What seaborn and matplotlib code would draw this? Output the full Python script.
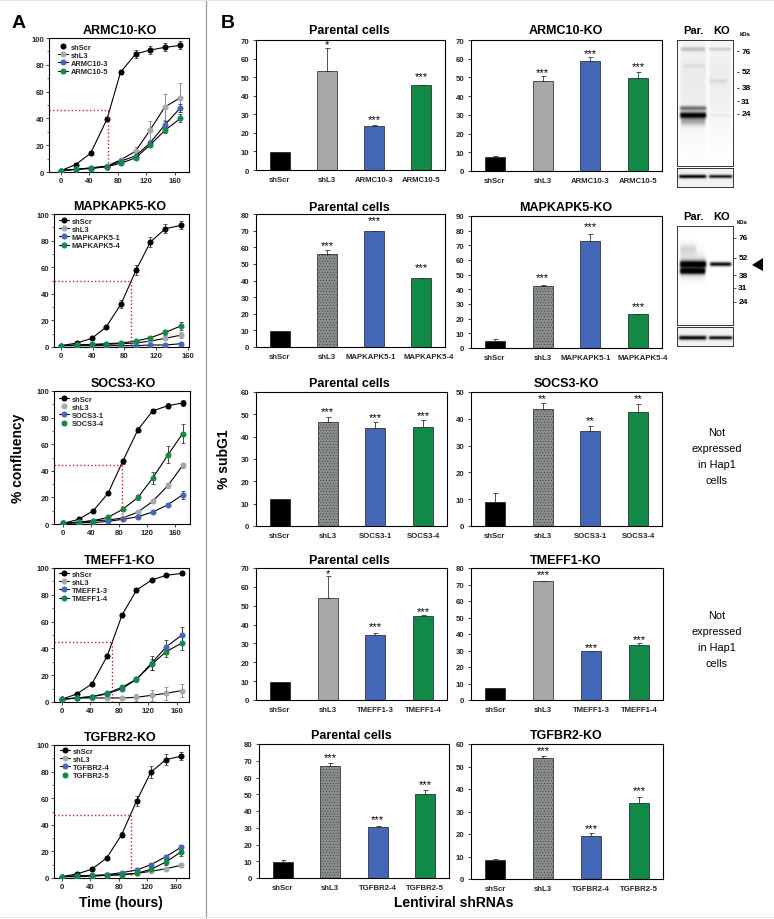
import numpy as np
import seaborn as sns
import matplotlib.pyplot as plt
from matplotlib.lines import Line2D
from matplotlib.patches import Polygon
from matplotlib.transforms import ScaledTranslation

W, H = 774, 920

# panel A: growth curves
ARMC10_HOURS = [0, 21, 42, 65, 84, 105, 125, 146, 168]
MAPK_HOURS = [0, 20, 39, 57, 76, 95, 113, 132, 152]
SOCS3_HOURS = [0, 22, 43, 64, 85, 107, 128, 150, 171]
TMEFF1_HOURS = [0, 21, 42, 63, 84, 104, 125, 145, 167]
TGFBR2_HOURS = [0, 21, 42, 63, 84, 105, 125, 146, 167]

ARMC10_CURVES = ["shScr", "shL3", "ARMC10-3", "ARMC10-5"]
ARMC10_SCR = [1, 5.5, 14, 39.5, 74.5, 88, 91, 93, 94.5]
ARMC10_SCR_ERR = [0.5, 1, 1, 1, 1, 3, 3, 3, 3]
ARMC10_L3 = [1, 2, 3, 4.5, 9, 15.5, 31, 48.5, 55.5]
ARMC10_L3_ERR = [0, 0, 0, 0.5, 1, 3, 7, 10, 11]
ARMC10_A = [1, 2, 3, 4, 8, 12, 21.5, 35, 48]
ARMC10_A_ERR = [0, 0, 0, 0, 1, 1, 2, 3, 3]
ARMC10_B = [1, 2, 2.5, 4, 6.5, 10.5, 20, 31, 40]
ARMC10_B_ERR = [0, 0, 0, 0, 1, 1, 1, 2, 3]

MAPK_CURVES = ["shScr", "shL3", "MAPKAPK5-1", "MAPKAPK5-4"]
MAPK_SCR = [1, 3, 6.5, 15, 32.5, 58, 79, 89, 91.5]
MAPK_SCR_ERR = [0, 0.5, 0.5, 1, 3, 4, 4, 3.5, 3]
MAPK_L3 = [1, 1.5, 1.5, 2, 2.5, 3, 4.5, 6.5, 9]
MAPK_L3_ERR = [0, 0, 0, 0, 0, 0.5, 1, 1.5, 2.5]
MAPK_A = [1, 1, 1, 1, 1, 1, 1.5, 1.5, 2.5]
MAPK_A_ERR = [0, 0, 0, 0, 0, 0, 0.5, 0.5, 1]
MAPK_B = [1, 1.5, 2, 2.5, 3, 4.5, 7, 11, 16]
MAPK_B_ERR = [0, 0, 0, 0, 0.5, 0.5, 1, 2, 3]

SOCS3_CURVES = ["shScr", "shL3", "SOCS3-1", "SOCS3-4"]
SOCS3_SCR = [0.5, 3.5, 10, 23, 47, 71, 85, 89, 91]
SOCS3_SCR_ERR = [0, 0.5, 0.5, 1, 2, 2, 1.5, 2, 2.5]
SOCS3_L3 = [0.5, 1.5, 2.5, 3, 4.5, 9, 17, 29, 44]
SOCS3_L3_ERR = [0, 0, 0, 0, 0.5, 1, 1, 2, 2]
SOCS3_A = [0.5, 1, 1, 2, 3.5, 5.5, 9, 14.5, 22]
SOCS3_A_ERR = [0, 0, 0, 0, 0.5, 1, 1, 1, 3]
SOCS3_B = [0.5, 1, 2.5, 5, 11, 20, 34.5, 52, 68]
SOCS3_B_ERR = [0, 0, 0.5, 0.5, 1, 2, 4.5, 6.5, 7]

TMEFF1_CURVES = ["shScr", "shL3", "TMEFF1-3", "TMEFF1-4"]
TMEFF1_SCR = [2, 6, 13.5, 34, 65, 83.5, 91, 94.5, 96]
TMEFF1_SCR_ERR = [0, 0.5, 0.5, 1, 1, 1.5, 1, 1, 1]
TMEFF1_L3 = [2, 3, 3, 3, 3, 3.5, 5, 6.5, 8.5]
TMEFF1_L3_ERR = [0, 0, 0, 0.5, 0.5, 2.5, 4, 5, 5]
TMEFF1_A = [2, 3, 4, 6, 10, 17, 29, 41, 50]
TMEFF1_A_ERR = [0, 0, 0.5, 0.5, 1, 2, 5, 5.5, 6]
TMEFF1_B = [2, 3, 4, 6.5, 11, 17, 28, 37.5, 44]
TMEFF1_B_ERR = [0, 0, 0.5, 0.5, 1, 1, 4, 4, 5]

TGFBR2_CURVES = ["shScr", "shL3", "TGFBR2-4", "TGFBR2-5"]
TGFBR2_SCR = [1, 3, 6.5, 15, 32.5, 58, 79.5, 89, 91.5]
TGFBR2_SCR_ERR = [0, 0.5, 0.5, 1, 2, 4, 4.5, 4, 3]
TGFBR2_L3 = [1, 1, 1.5, 2, 2.5, 3.5, 5, 7, 9.5]
TGFBR2_L3_ERR = [0, 0, 0, 0, 0, 0.5, 0.5, 0.5, 1]
TGFBR2_A = [1, 1.5, 2, 2.5, 4, 6, 10, 16, 23]
TGFBR2_A_ERR = [0, 0, 0, 0, 0.5, 0.5, 1, 1.5, 2]
TGFBR2_B = [1, 1.5, 1.5, 2, 2.5, 3.5, 6.5, 12, 19.5]
TGFBR2_B_ERR = [0, 0, 0, 0, 0.5, 0.5, 1, 2, 3]

# dotted guide lines (hours, % confluency)
GUIDE_HOURS = [67, 88, 84.5, 70, 97]
GUIDE_LEVEL = [46, 49.5, 44.5, 44.5, 47.5]

# panel B: subG1 bars
ARMC10_PAR = [9.5, 53.5, 23.5, 46]
ARMC10_PAR_ERR = [0.3, 12, 0.5, 0]
ARMC10_PAR_STAR = [None, 68, 27.9, 51]
ARMC10_KO = [7.5, 48, 59, 49.5]
ARMC10_KO_ERR = [0.3, 2.5, 2, 3.5]
ARMC10_KO_STAR = [None, 53, 63.3, 56.2]

MAPK_PAR = [9.5, 56, 70, 41.5]
MAPK_PAR_ERR = [0, 2.5, 0, 0]
MAPK_PAR_STAR = [None, 61.4, 76.4, 48.4]
MAPK_KO = [5, 42, 73, 23]
MAPK_KO_ERR = [1, 1.2, 4.5, 0.5]
MAPK_KO_STAR = [None, 48.4, 83.3, 28.7]

SOCS3_PAR = [12, 46.7, 44, 44.5]
SOCS3_PAR_ERR = [0.2, 2.3, 2.5, 3]
SOCS3_PAR_STAR = [None, 51.5, 48.8, 50.1]
SOCS3_KO = [9, 43.5, 35.5, 42.5]
SOCS3_KO_ERR = [3.5, 2.3, 1.7, 3.2]
SOCS3_KO_STAR = [None, 47.9, 39.6, 47.9]

TMEFF1_PAR = [9.5, 54, 34.5, 44.5]
TMEFF1_PAR_ERR = [0.2, 12, 1, 0.5]
TMEFF1_PAR_STAR = [None, 67.3, 39.4, 47.6]
TMEFF1_KO = [7, 72, 29.5, 33.5]
TMEFF1_KO_ERR = [0.3, 0, 0.3, 1]
TMEFF1_KO_STAR = [None, 76.5, 32.5, 37.3]

TGFBR2_PAR = [9.5, 67, 30.5, 50]
TGFBR2_PAR_ERR = [1, 1.7, 0.5, 2.7]
TGFBR2_PAR_STAR = [None, 72.6, 35.2, 56.3]
TGFBR2_KO = [8.5, 54, 19, 34]
TGFBR2_KO_ERR = [0.3, 0.8, 1.3, 2.5]
TGFBR2_KO_STAR = [None, 57.4, 23, 39.7]

STAR_LABELS_PAR = [
    ["", "*", "***", "***"], ["", "***", "***", "***"], ["", "***", "***", "***"],
    ["", "*", "***", "***"], ["", "***", "***", "***"],
]
STAR_LABELS_KO = [
    ["", "***", "***", "***"], ["", "***", "***", "***"], ["", "**", "**", "**"],
    ["", "***", "***", "***"], ["", "***", "***", "***"],
]

BLACK, LIGHT_GRAY, DARK_GRAY = "#000000", "#a8a8a8", "#8a8f8e"
BLUE, GREEN, RED = "#4467b8", "#128a47", "#c8202c"
FONT = ["Liberation Sans", "DejaVu Sans"]

sns.set_theme(style="ticks")
plt.rcParams["font.family"] = FONT
plt.rcParams["hatch.linewidth"] = 0.2

fig = plt.figure(figsize=(W / 100, H / 100), dpi=100, facecolor="white")


def px_axes(left, top, right, bottom):
    return fig.add_axes([left / W, 1 - bottom / H, (right - left) / W, (bottom - top) / H])


def px_text(x, y, s, size, bold=True, rotation=0):
    fig.text(x / W, 1 - y / H, s, fontsize=size, fontweight="bold" if bold else "normal",
             ha="center", va="center", rotation=rotation, color="black")


def frame_axes(ax):
    for sp in ax.spines.values():
        sp.set_linewidth(0.8)
        sp.set_color("black")
        sp.set_visible(True)


def plot_growth(box, xlim, hours, names, curves, errs, guide, leg_xy, title, title_x,
                marker_only=()):
    ax = px_axes(*box)
    colors = [BLACK, LIGHT_GRAY, BLUE, GREEN]
    for name, vals, err, col in zip(names, curves, errs, colors):
        ax.errorbar(hours, vals, yerr=err, fmt="none", ecolor="#777777" if col == LIGHT_GRAY else "#222222",
                    elinewidth=0.6, capsize=1.2, capthick=0.5, zorder=2)
        sns.lineplot(x=hours, y=vals, color="black", linewidth=0.8, marker="o", markersize=3.6,
                     markerfacecolor=col, markeredgecolor=col, label=name, errorbar=None,
                     ax=ax, zorder=3)
    ax.plot([xlim[0], guide[0]], [guide[1], guide[1]], color=RED, lw=1.0, ls=":", zorder=4)
    ax.plot([guide[0], guide[0]], [guide[1], 0], color=RED, lw=1.0, ls=":", zorder=4)
    ax.set_xlim(*xlim)
    ax.set_ylim(0, 100)
    ax.set_xticks([0, 40, 80, 120, 160])
    ax.set_yticks(range(0, 101, 20))
    ax.set_yticks(range(10, 100, 20), minor=True)
    ax.tick_params(axis="both", which="major", length=2, width=0.6, labelsize=5.6, pad=1.5)
    ax.tick_params(axis="y", which="minor", length=1.2, width=0.5)
    for lab in ax.get_xticklabels() + ax.get_yticklabels():
        lab.set_fontweight("bold")
    ax.set_xlabel("")
    ax.set_ylabel("")
    frame_axes(ax)
    leg = ax.legend(loc="upper left", bbox_to_anchor=(leg_xy[0] / W, 1 - (leg_xy[1] + 1.5) / H),
                    bbox_transform=fig.transFigure, frameon=False, borderpad=0,
                    borderaxespad=0, labelspacing=0.12, handlelength=1.35, handletextpad=0.35,
                    prop={"weight": "bold", "size": 5.4})
    for i in marker_only:
        leg.legend_handles[i].set_linestyle("none")
    px_text(title_x, box[1] - 8, title, 9)


def plot_bars(box, ymax, labels, vals, err, star_y, stars, gray, title, title_x, title_y,
              label_shift=(0, 0, 0, 0)):
    ax = px_axes(*box)
    palette = [BLACK, gray, BLUE, GREEN]
    sns.barplot(x=labels, y=vals, hue=labels, palette=palette, width=0.42, saturation=1,
                legend=False, edgecolor="#1a1a1a", linewidth=0.5, ax=ax)
    if gray == DARK_GRAY:
        ax.patches[1].set_hatch("......")
    ax.errorbar(range(4), vals, yerr=[[0] * 4, err], fmt="none", ecolor="#333333",
                elinewidth=0.6, capsize=1.8, capthick=0.6, zorder=1)
    for i, (y, s) in enumerate(zip(star_y, stars)):
        if y is not None:
            ax.annotate(s, (i, y), xytext=(0, -2.5), textcoords="offset points", ha="center",
                        va="baseline", fontsize=8, color="black")
    ax.set_xlim(-0.5, 3.5)
    ax.set_ylim(0, ymax)
    ax.set_yticks(range(0, ymax + 1, 10))
    ax.tick_params(axis="y", length=2.2, width=0.6, labelsize=5.6, pad=2.8)
    ax.tick_params(axis="x", length=0, labelsize=5.6, pad=4)
    for lab in ax.get_xticklabels() + ax.get_yticklabels():
        lab.set_fontweight("bold")
    for lab, dx in zip(ax.get_xticklabels(), label_shift):
        lab.set_transform(lab.get_transform() + ScaledTranslation(dx / 100, 0, fig.dpi_scale_trans))
    ax.set_xlabel("")
    ax.set_ylabel("")
    frame_axes(ax)
    px_text(title_x, title_y, title, 9)


def draw_blot(box, bands, base=0.0):
    left, top, right, bottom = box
    ax = px_axes(*box)
    h, w = (bottom - top) * 3, (right - left) * 3
    yy, xx = np.mgrid[0:h, 0:w] / 3.0
    img = np.full((h, w), base)
    for x0, x1, yc, sig, dark in bands:
        across = 0.5 * (np.tanh((xx - x0) / 1.2) - np.tanh((xx - x1) / 1.2))
        img += dark * across * np.exp(-0.5 * ((yy - yc) / sig) ** 2)
    ax.imshow(1 - np.clip(img, 0, 1), cmap="gray", vmin=0, vmax=1, aspect="auto",
              extent=(0, right - left, bottom - top, 0), interpolation="bilinear")
    ax.set_xticks([])
    ax.set_yticks([])
    for sp in ax.spines.values():
        sp.set_linewidth(0.7)
        sp.set_color("#333333")
        sp.set_visible(True)


def kda_marks(x, labels, ys, kda_y):
    px_text(x + 9, kda_y, "kDa", 4.2)
    for lab, y in zip(labels, ys):
        px_text(x + 2, y, "-", 6)
        px_text(x + 10, y, lab, 6)


# panel A
plot_growth((49, 39, 189, 173), (-16.4, 180), ARMC10_HOURS, ARMC10_CURVES,
            [ARMC10_SCR, ARMC10_L3, ARMC10_A, ARMC10_B],
            [ARMC10_SCR_ERR, ARMC10_L3_ERR, ARMC10_A_ERR, ARMC10_B_ERR],
            (GUIDE_HOURS[0], GUIDE_LEVEL[0]), (58, 43), "ARMC10-KO", 120, marker_only=[0])
plot_growth((54, 215, 189, 348), (-8.8, 161.7), MAPK_HOURS, MAPK_CURVES,
            [MAPK_SCR, MAPK_L3, MAPK_A, MAPK_B],
            [MAPK_SCR_ERR, MAPK_L3_ERR, MAPK_A_ERR, MAPK_B_ERR],
            (GUIDE_HOURS[1], GUIDE_LEVEL[1]), (59, 217), "MAPKAPK5-KO", 120)
plot_growth((54, 392, 190, 525), (-13.3, 181.5), SOCS3_HOURS, SOCS3_CURVES,
            [SOCS3_SCR, SOCS3_L3, SOCS3_A, SOCS3_B],
            [SOCS3_SCR_ERR, SOCS3_L3_ERR, SOCS3_A_ERR, SOCS3_B_ERR],
            (GUIDE_HOURS[2], GUIDE_LEVEL[2]), (59, 395), "SOCS3-KO", 123, marker_only=[1, 3])
plot_growth((54, 569, 189, 703), (-10.7, 177), TMEFF1_HOURS, TMEFF1_CURVES,
            [TMEFF1_SCR, TMEFF1_L3, TMEFF1_A, TMEFF1_B],
            [TMEFF1_SCR_ERR, TMEFF1_L3_ERR, TMEFF1_A_ERR, TMEFF1_B_ERR],
            (GUIDE_HOURS[3], GUIDE_LEVEL[3]), (59, 570), "TMEFF1-KO", 120)
plot_growth((54, 746, 189, 879), (-10.8, 178.5), TGFBR2_HOURS, TGFBR2_CURVES,
            [TGFBR2_SCR, TGFBR2_L3, TGFBR2_A, TGFBR2_B],
            [TGFBR2_SCR_ERR, TGFBR2_L3_ERR, TGFBR2_A_ERR, TGFBR2_B_ERR],
            (GUIDE_HOURS[4], GUIDE_LEVEL[4]), (60, 747), "TGFBR2-KO", 120, marker_only=[3])

# panel B
plot_bars((256, 41, 445, 171), 70, ARMC10_CURVES, ARMC10_PAR, ARMC10_PAR_ERR, ARMC10_PAR_STAR,
          STAR_LABELS_PAR[0], LIGHT_GRAY, "Parental cells", 349, 31)
plot_bars((471, 41, 662, 172), 70, ARMC10_CURVES, ARMC10_KO, ARMC10_KO_ERR, ARMC10_KO_STAR,
          STAR_LABELS_KO[0], LIGHT_GRAY, "ARMC10-KO", 566, 31)
plot_bars((256, 215, 445, 348), 80, MAPK_CURVES, MAPK_PAR, MAPK_PAR_ERR, MAPK_PAR_STAR,
          STAR_LABELS_PAR[1], DARK_GRAY, "Parental cells", 349, 208, label_shift=(0, 0, -3, 7))
plot_bars((471, 217, 662, 349), 90, MAPK_CURVES, MAPK_KO, MAPK_KO_ERR, MAPK_KO_STAR,
          STAR_LABELS_KO[1], DARK_GRAY, "MAPKAPK5-KO", 566, 208, label_shift=(0, 0, -5, 5))
plot_bars((256, 393, 447, 527), 60, SOCS3_CURVES, SOCS3_PAR, SOCS3_PAR_ERR, SOCS3_PAR_STAR,
          STAR_LABELS_PAR[2], DARK_GRAY, "Parental cells", 349, 384)
plot_bars((471, 393, 662, 527), 50, SOCS3_CURVES, SOCS3_KO, SOCS3_KO_ERR, SOCS3_KO_STAR,
          STAR_LABELS_KO[2], DARK_GRAY, "SOCS3-KO", 566, 384)
plot_bars((256, 569, 447, 701), 70, TMEFF1_CURVES, TMEFF1_PAR, TMEFF1_PAR_ERR, TMEFF1_PAR_STAR,
          STAR_LABELS_PAR[3], LIGHT_GRAY, "Parental cells", 349, 561)
plot_bars((471, 569, 663, 701), 80, TMEFF1_CURVES, TMEFF1_KO, TMEFF1_KO_ERR, TMEFF1_KO_STAR,
          STAR_LABELS_KO[3], LIGHT_GRAY, "TMEFF1-KO", 566, 561)
plot_bars((259, 745, 449, 879), 80, TGFBR2_CURVES, TGFBR2_PAR, TGFBR2_PAR_ERR, TGFBR2_PAR_STAR,
          STAR_LABELS_PAR[4], DARK_GRAY, "Parental cells", 351, 736)
plot_bars((471, 745, 663, 880), 60, TGFBR2_CURVES, TGFBR2_KO, TGFBR2_KO_ERR, TGFBR2_KO_STAR,
          STAR_LABELS_KO[4], DARK_GRAY, "TGFBR2-KO", 566, 736)

# western blots
draw_blot((677, 41, 733, 167), [
    (3, 29, 40, 38, 0.08), (32, 54, 38, 36, 0.07),
    (4, 28, 9, 1.6, 0.2), (32, 54, 9, 1.2, 0.15), (6, 28, 26, 1.5, 0.06),
    (32, 50, 41, 1.5, 0.08), (3, 29, 68, 1.6, 0.5), (3, 29, 75, 2.2, 1.0),
    (4, 28, 81, 3.0, 0.3), (32, 54, 75, 1.0, 0.05),
])
draw_blot((677, 169, 733, 188), [(2, 29, 8.3, 1.3, 0.95), (32, 55, 8.3, 1.2, 0.85)], base=0.05)
draw_blot((677, 227, 733, 326), [
    (3, 19, 23, 4, 0.15), (3, 28, 40, 8, 0.2), (3, 29, 38, 2.4, 1.0), (3, 28, 45, 2.2, 1.0),
    (33, 54, 38, 1.5, 0.95),
])
draw_blot((677, 328, 733, 347), [(2, 29, 11, 1.4, 0.95), (32, 55, 11, 1.2, 0.9)], base=0.05)

for y in (31, 217):
    px_text(693, y, "Par.", 8)
    px_text(722, y, "KO", 8)
kda_marks(736, ["76", "52", "38", "31", "24"], [52, 73, 89, 102, 115], 35)
kda_marks(733, ["76", "52", "38", "31", "24"], [239, 259, 276, 289, 303], 222)
fig.add_artist(Polygon([(752 / W, 1 - 266 / H), (763 / W, 1 - 259 / H), (763 / W, 1 - 272 / H)],
                       closed=True, facecolor="black", edgecolor="none",
                       transform=fig.transFigure))

for y0 in (433, 616):
    for k, line in enumerate(["Not", "expressed", "in Hap1", "cells"]):
        px_text(717, y0 + k * 16, line, 7.8, bold=False)

# figure level text
px_text(19, 23, "A", 14)
px_text(228, 23, "B", 14)
px_text(18, 458, "% confluency", 10, rotation=90)
px_text(224, 459, "% subG1", 10, rotation=90)
px_text(120.5, 903, "Time (hours)", 10)
px_text(454, 903, "Lentiviral shRNAs", 10)

fig.add_artist(Line2D([206 / W, 206 / W], [0, 1], color="#9a9a9a", lw=0.9,
                      transform=fig.transFigure))
for y_edge in (0.999, 0.002):
    fig.add_artist(Line2D([0, 1], [y_edge, y_edge], color="#e4e4e4", lw=0.8,
                          transform=fig.transFigure))

fig.savefig("out.png", dpi=100)
